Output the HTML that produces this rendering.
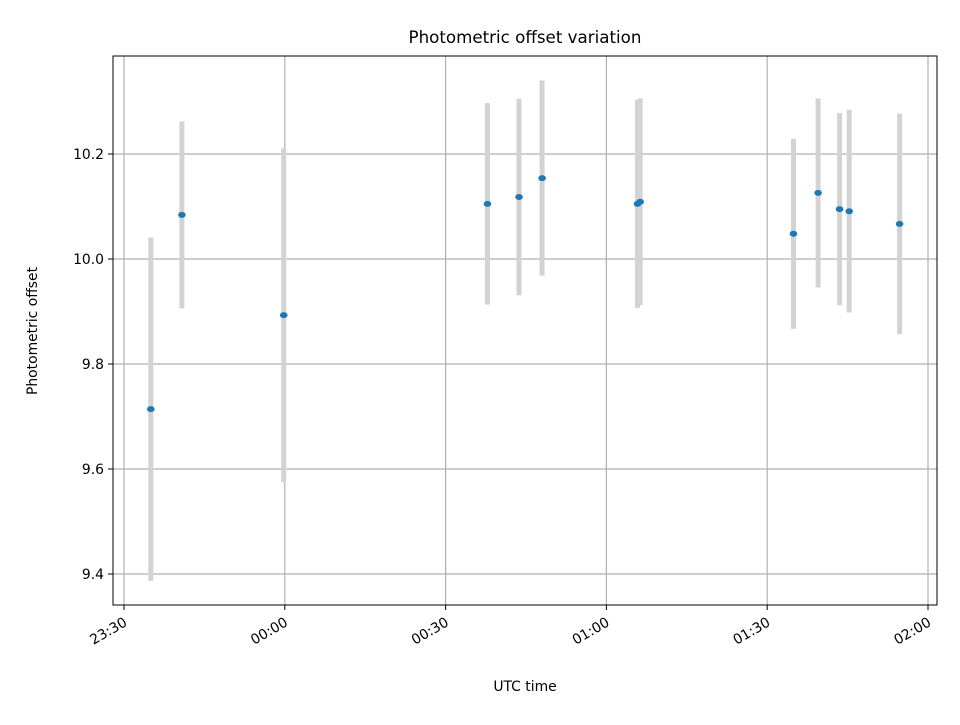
<!DOCTYPE html>
<html><head><meta charset="utf-8"><style>
html,body{margin:0;padding:0;background:#fff;}
svg text{font-family:"DejaVu Sans","Liberation Sans",sans-serif;fill:#000;}
</style></head><body>
<svg id="chart" width="960" height="720" viewBox="0 0 960 720" xmlns="http://www.w3.org/2000/svg">
<rect width="960" height="720" fill="#fff"/>
<g id="grid"></g>
<g id="bars"></g>
<g id="pts"></g>
<rect x="113" y="56" width="824" height="549" fill="none" stroke="#000" stroke-width="1"/>
<g id="ticks"></g>
<text x="525" y="43" font-size="16.7" text-anchor="middle">Photometric offset variation</text>
<text x="525" y="691" font-size="13.9" text-anchor="middle">UTC time</text>
<text transform="translate(37,331) rotate(-90)" font-size="13.9" text-anchor="middle">Photometric offset</text>
</svg>
<script>
// minutes after 23:30 UTC
const times = [5.0, 10.8, 29.8, 67.8, 73.7, 78.0, 95.8, 96.3, 124.9, 129.5, 133.5, 135.3, 144.7];
const offsets = [9.714, 10.084, 9.893, 10.105, 10.118, 10.154, 10.105, 10.109, 10.048, 10.126, 10.095, 10.091, 10.067];
const errors = [0.327, 0.178, 0.318, 0.192, 0.187, 0.186, 0.198, 0.197, 0.181, 0.180, 0.183, 0.193, 0.210];
const yTicks = [9.4, 9.6, 9.8, 10.0, 10.2];
const xTickMins = [0, 30, 60, 90, 120, 150];
const xTickLabels = ["23:30", "00:00", "00:30", "01:00", "01:30", "02:00"];

const NS = "http://www.w3.org/2000/svg";
const X = m => 124 + m * (804 / 150);
const Y = v => 259 - (v - 10.0) * 525;
function mk(tag, attrs, parent){const e=document.createElementNS(NS,tag);for(const k in attrs)e.setAttribute(k,attrs[k]);parent.appendChild(e);return e;}
const grid=document.getElementById('grid'),ticks=document.getElementById('ticks'),bars=document.getElementById('bars'),pts=document.getElementById('pts');

yTicks.forEach(v=>{
  const y=Y(v);
  const g=mk('line',{x1:113,x2:937,y1:y,y2:y,stroke:'#b0b0b0','stroke-width':1.2},grid);
  
  
  const t=mk('line',{x1:108,x2:113,y1:y,y2:y,stroke:'#000','stroke-width':1},ticks);
  
  
  const l=mk('text',{x:104,y:y+5,'font-size':13.9,'text-anchor':'end'},ticks);
  l.textContent=v.toFixed(1);
  
  
});
xTickMins.forEach((m,i)=>{
  const x=X(m);
  const g=mk('line',{x1:x,x2:x,y1:56,y2:605,stroke:'#b0b0b0','stroke-width':1.2},grid);
  
  
  const t=mk('line',{x1:x,x2:x,y1:605,y2:610,stroke:'#000','stroke-width':1},ticks);
  
  
  const l=mk('text',{'font-size':13.9,'text-anchor':'end',transform:`translate(${x+4},${625}) rotate(-30)`},ticks);
  l.textContent=xTickLabels[i];
  
  
});
times.forEach((m,i)=>{
  const x=X(m);
  const b=mk('line',{x1:x,x2:x,y1:Y(offsets[i]+errors[i]),y2:Y(offsets[i]-errors[i]),stroke:'#d3d3d3','stroke-width':5},bars);
  
  
  const p=mk('ellipse',{cx:x,cy:Y(offsets[i]),rx:3.8,ry:3,fill:'#1f77b4'},pts);
  
  
});
</script>
</body></html>
